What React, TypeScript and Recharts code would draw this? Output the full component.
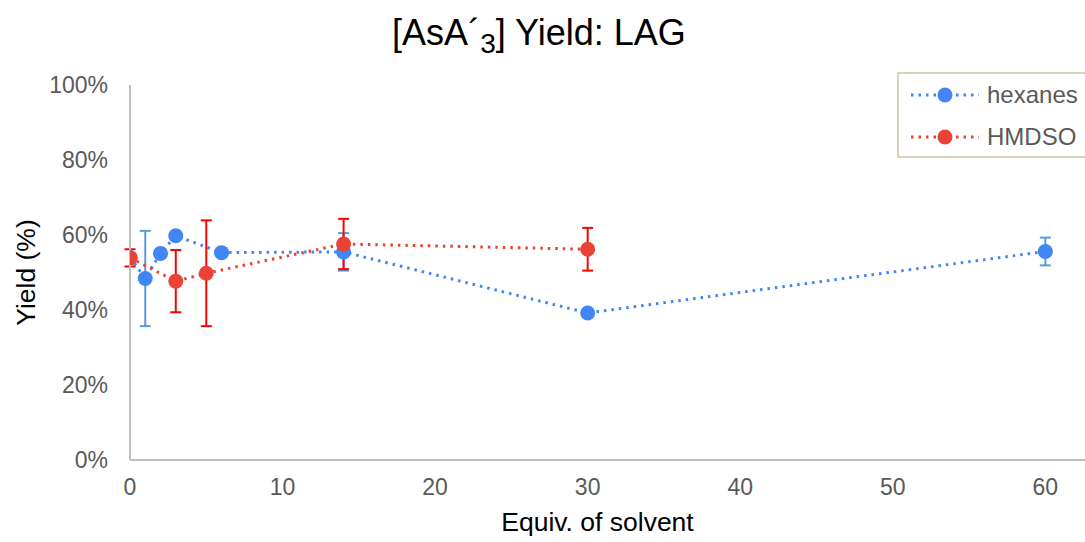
import React from 'react';
import { LineChart, Line, XAxis, YAxis, ErrorBar } from 'recharts';

const hexanesX = [0, 1, 2, 3, 6, 14, 30, 60];
const hexanesY = [54, 48.4, 55.1, 59.8, 55.3, 55.5, 39.2, 55.6];
const hexanesErr = [0, 12.7, 0, 0, 0, 5, 0, 3.7];

const hmdsoX = [0, 3, 5, 14, 30];
const hmdsoY = [53.9, 47.7, 49.8, 57.6, 56.2];
const hmdsoErr = [2.3, 8.3, 14.1, 6.7, 5.7];

const xTicks = [0, 10, 20, 30, 40, 50, 60];
const yTicks = [0, 20, 40, 60, 80, 100];

const seriesNames = ['hexanes', 'HMDSO'];

const hexanesData = hexanesX.map((x, i) => ({ x, y: hexanesY[i], err: hexanesErr[i] }));
const hmdsoData = hmdsoX.map((x, i) => ({ x, y: hmdsoY[i], err: hmdsoErr[i] }));

const BLUE = '#4285F4';
const RED = '#EA4335';
const FONT = '"Liberation Sans", Arial, sans-serif';

const legendItems = [
  { name: seriesNames[0], color: BLUE },
  { name: seriesNames[1], color: RED },
];

const LegendBox = () => (
  <div
    style={{
      position: 'absolute',
      left: 897,
      top: 72,
      border: '2px solid #d9d3bd',
      background: '#fff',
      width: 200,
      height: 86,
      boxSizing: 'border-box',
      paddingLeft: 11,
      paddingTop: 0,
      fontFamily: FONT,
    }}
  >
    {legendItems.map((it) => (
      <div key={it.name} style={{ display: 'flex', alignItems: 'center', height: 42 }}>
        <svg width={70} height={16} style={{ marginRight: 7 }}>
          <line x1={1} y1={8} x2={69} y2={8} stroke={it.color} strokeWidth={3} strokeDasharray="2.5 5" />
          <circle cx={35} cy={8} r={7.5} fill={it.color} />
        </svg>
        <span style={{ fontSize: 24, color: '#595959' }}>{it.name}</span>
      </div>
    ))}
  </div>
);

const YTitle = (props: any) => {
  const vb = props.viewBox || {};
  const cy = vb.y + vb.height / 2;
  const cx = 26;
  return (
    <text
      x={cx}
      y={cy}
      transform={`rotate(-90 ${cx} ${cy})`}
      textAnchor="middle"
      dominantBaseline="central"
      fontSize={26.5}
      fontFamily={FONT}
      fill="#000"
    >
      Yield (%)
    </text>
  );
};

export default function App() {
  return (
    <div style={{ position: 'absolute', left: 0, top: 0, width: 1085, height: 542, overflow: 'hidden', background: '#fff' }}>
      <div
        style={{
          position: 'absolute',
          left: 0,
          top: 13,
          width: 1078,
          textAlign: 'center',
          fontFamily: FONT,
          fontSize: 36,
          lineHeight: '40px',
          color: '#000',
        }}
      >
        [AsA{'\u00B4'}<span style={{ fontSize: '0.78em', position: 'relative', top: '0.3em' }}>3</span>] Yield: LAG
      </div>
      <LineChart width={1085} height={542} margin={{ top: 85, right: 0, left: 0, bottom: 0 }}>
        <XAxis
          type="number"
          dataKey="x"
          domain={[0, 62.6]}
          allowDataOverflow
          ticks={xTicks}
          tickLine={false}
          tickSize={0}
          tickMargin={19}
          height={82}
          axisLine={{ stroke: '#bfbfbf', strokeWidth: 2 }}
          tick={{ fontSize: 23, fill: '#595959', fontFamily: FONT }}
          label={{ value: 'Equiv. of solvent', position: 'insideBottom', offset: 11, dx: -10, fontSize: 26.5, fill: '#000', fontFamily: FONT }}
        />
        <YAxis
          type="number"
          dataKey="y"
          domain={[0, 100]}
          ticks={yTicks}
          tickFormatter={(v: number) => `${v}%`}
          tickLine={false}
          tickSize={0}
          tickMargin={22}
          width={130}
          axisLine={{ stroke: '#bfbfbf', strokeWidth: 2 }}
          tick={{ fontSize: 23, fill: '#595959', fontFamily: FONT }}
          label={<YTitle />}
        />
        <Line
          data={hexanesData}
          dataKey="y"
          name={seriesNames[0]}
          type="linear"
          stroke={BLUE}
          strokeWidth={3}
          strokeDasharray="2.5 5"
          dot={{ r: 7.5, fill: BLUE, stroke: 'none' }}
          activeDot={false}
          isAnimationActive={false}
        >
          <ErrorBar dataKey="err" direction="y" width={5.5} stroke="#5b9bd5" strokeWidth={2} isAnimationActive={false} />
        </Line>
        <Line
          data={hmdsoData}
          dataKey="y"
          name={seriesNames[1]}
          type="linear"
          stroke={RED}
          strokeWidth={3}
          strokeDasharray="2.5 5"
          dot={{ r: 7.5, fill: RED, stroke: 'none' }}
          activeDot={false}
          isAnimationActive={false}
        >
          <ErrorBar dataKey="err" direction="y" width={5.5} stroke="#ff0000" strokeWidth={2} isAnimationActive={false} />
        </Line>
      </LineChart>
      <LegendBox />
    </div>
  );
}
